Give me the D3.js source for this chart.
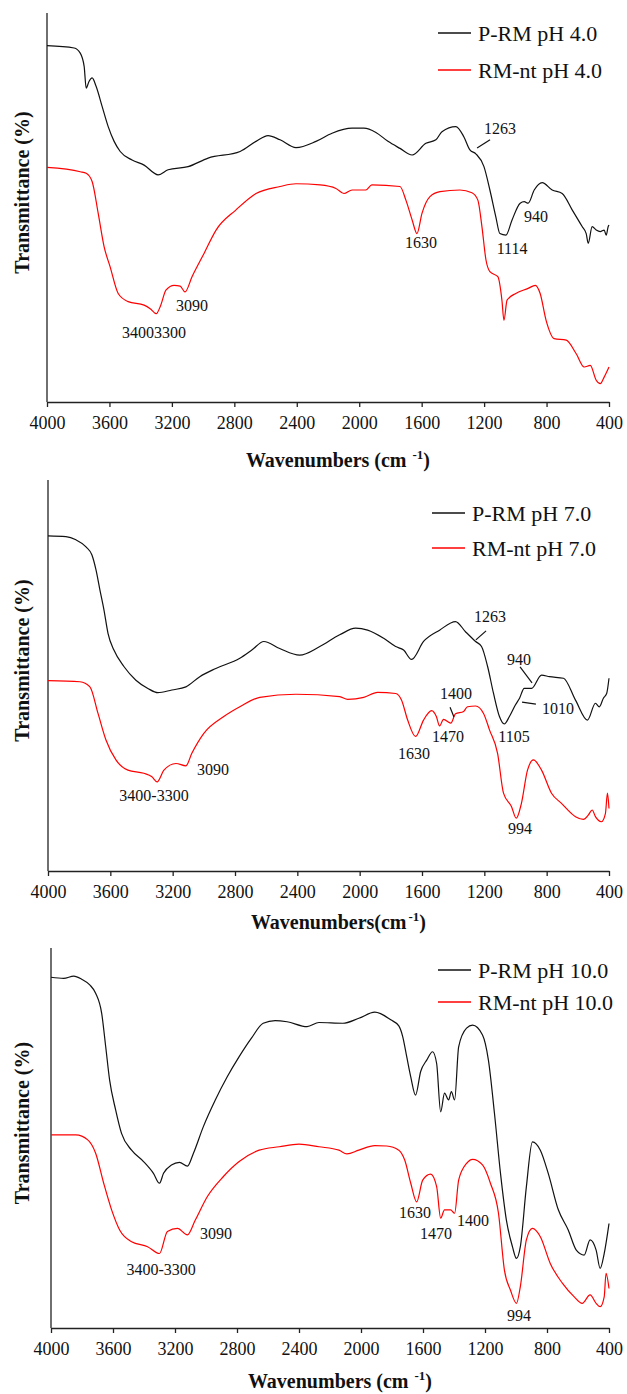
<!DOCTYPE html>
<html>
<head>
<meta charset="utf-8">
<script src="https://cdn.jsdelivr.net/npm/d3@7"></script>
<style>
  body { margin: 0; background: #fff; }
  svg { display: block; font-family: "Liberation Serif", "Times New Roman", serif; }
</style>
</head>
<body>
<svg id="chart" width="627" height="1394"></svg>
<script>
// ticks shared by the three panels
var tickValues = [4000, 3600, 3200, 2800, 2400, 2000, 1600, 1200, 800, 400];

// ---- pH 4.0 ----
var wnPRM4 = [4000,3826,3787,3762,3749,3731,3711,3685,3647,3608,3570,3531,3455,3378,3288,3224,3096,2968,2763,2661,2584,2507,2405,2277,2174,2046,1970,1893,1816,1739,1661,1573,1509,1470,1381,1330,1291,1253,1201,1163,1125,1099,1060,1021,969,943,918,879,828,764,700,636,572,546,533,508,482,456,431,418,405,400];
var tPRM4  = [91.6,91.0,89.7,86.3,80.7,82.4,83.3,81.1,76.0,70.8,67.0,64.4,62.2,60.9,58.4,59.7,60.5,62.7,64.4,67.0,68.5,67.4,65.4,67.0,69.1,70.4,70.4,69.3,67.0,65.2,63.5,66.5,67.4,69.5,70.8,68.2,64.8,63.8,60.5,54.5,47.6,43.3,42.9,46.8,51.1,51.5,51.1,54.5,56.4,54.5,53.6,49.4,45.1,43.3,40.8,45.1,44.2,43.8,44.2,42.9,45.1,45.5];
var wnRMnt4 = [4000,3787,3749,3711,3672,3634,3596,3544,3480,3378,3339,3300,3275,3237,3186,3147,3116,3071,2994,2917,2789,2661,2507,2405,2251,2149,2098,2046,1957,1919,1739,1701,1661,1630,1598,1547,1483,1355,1278,1240,1214,1188,1163,1112,1086,1073,1053,997,918,872,841,803,751,674,610,559,520,482,456,431,400];
var tRMnt4  = [60.3,59.2,58.8,56.7,48.5,39.9,34.8,27.9,25.8,24.9,24.0,22.7,24.5,28.8,30.0,29.8,28.3,32.2,38.2,44.2,49.4,53.6,55.4,56.1,55.8,54.9,53.6,54.5,54.5,55.8,55.4,51.9,46.8,43.3,48.5,52.8,54.1,54.5,53.8,51.9,45.1,36.5,33.5,32.2,26.2,21.0,26.2,27.9,29.2,30.0,27.9,21.0,16.3,15.9,12.4,9.0,9.4,5.6,4.7,6.4,9.0];
var labels4 = ["1263", "940", "1114", "1630", "3090", "34003300"];
var labelWn4 = [1098, 867, 1021, 1604, 3071, 3315];
var labelT4  = [70.4, 47.6, 39.6, 41.1, 24.9, 18.0];
var leaders4 = [[1245, 65.3, 1162, 67.4]];

// ---- pH 7.0 ----
var wnPRM7 = [4000,3885,3821,3756,3718,3692,3667,3641,3615,3577,3513,3436,3359,3295,3205,3115,3026,2923,2769,2692,2615,2513,2385,2256,2128,2026,1949,1846,1769,1718,1667,1590,1487,1385,1321,1256,1218,1179,1141,1103,1072,1039,1000,974,944,897,833,782,692,615,538,487,462,436,415,400];
var tPRM7  = [85.7,85.5,84.7,82.9,80.8,77.0,71.9,66.8,60.8,56.5,52.3,48.8,46.7,45.6,46.3,47.1,49.7,51.8,54.4,56.5,58.7,56.9,55.2,57.4,60.4,62.1,61.6,59.5,57.4,56.5,54.1,58.7,61.6,63.8,61.2,58.7,57.4,52.3,45.4,39.5,37.6,39.5,42.5,44.2,46.7,46.7,50.1,49.7,49.3,43.7,38.6,42.9,42.0,44.2,45.4,49.3];
var wnRMnt7 = [4000,3795,3731,3679,3628,3564,3487,3385,3333,3300,3256,3179,3115,3077,3000,2872,2769,2641,2410,2128,2077,1974,1885,1769,1731,1692,1641,1590,1538,1508,1487,1462,1415,1385,1333,1308,1256,1205,1167,1115,1077,1026,995,962,923,885,833,769,705,615,564,533,508,487,449,423,410,400];
var tRMnt7  = [48.7,48.4,47.1,40.3,33.5,28.4,25.8,25.0,24.1,22.8,25.8,27.5,26.9,30.1,35.2,39.5,42.0,44.4,45.2,44.6,43.9,44.4,45.7,45.4,43.7,38.6,34.4,38.6,41.0,39.5,37.1,38.8,37.8,40.2,40.8,42.0,42.2,40.3,36.1,30.1,19.9,16.5,13.5,17.3,25.8,28.4,25.8,19.9,17.3,13.9,13.2,14.3,15.6,13.9,12.6,14.7,19.9,16.0];
var labels7 = ["1263", "940", "1010", "1105", "1400", "1470", "1630", "3090", "3400-3300", "994"];
var labelWn7 = [1164, 978, 727, 1010, 1382, 1433, 1651, 2941, 3320, 971];
var labelT7  = [65.0, 54.2, 41.7, 34.3, 45.5, 34.3, 30.2, 26.1, 19.4, 11.0];
var leaders7 = [[1254, 59.1, 1189, 61.4], [971, 52.2, 894, 48.1], [958, 43.2, 869, 42.7], [1420, 41.9, 1395, 39.4]];

// ---- pH 10.0 ----
var wnPRM10 = [4000,3918,3853,3802,3750,3712,3673,3647,3622,3583,3545,3480,3403,3339,3300,3274,3223,3171,3120,3081,3017,2940,2863,2786,2708,2631,2554,2477,2348,2271,2117,2014,1911,1808,1756,1731,1705,1679,1648,1615,1576,1538,1512,1486,1461,1435,1417,1396,1370,1319,1280,1216,1178,1139,1100,1062,1023,997,972,933,894,843,792,727,663,611,560,522,483,457,431,400];
var tPRM10  = [92.3,92.0,92.6,91.8,90.3,88.1,82.8,74.0,65.3,57.4,51.2,46.8,43.8,40.7,38.1,40.7,42.9,43.6,42.6,46.0,53.0,60.0,66.1,71.4,76.2,80.2,80.9,80.6,79.3,80.4,80.2,81.5,83.1,81.1,79.5,76.7,71.4,66.1,61.3,67.5,70.5,72.7,69.6,56.9,61.8,60.0,62.2,60.0,74.0,78.9,79.7,77.1,70.5,56.5,40.7,28.4,21.4,18.3,21.4,37.2,49.0,46.8,40.7,31.1,25.8,20.5,19.2,23.2,20.5,15.7,19.6,27.5];
var wnRMnt10 = [4000,3840,3763,3712,3660,3609,3557,3480,3377,3300,3249,3184,3120,3069,2991,2889,2786,2657,2528,2400,2271,2142,2091,2014,1911,1834,1756,1718,1679,1641,1602,1551,1512,1486,1461,1422,1396,1370,1319,1280,1216,1165,1113,1075,1036,997,972,933,894,843,779,701,624,573,522,483,457,431,419,400];
var tRMnt10  = [50.8,50.8,49.5,46.0,38.1,31.1,25.8,22.7,21.4,19.6,25.4,26.2,24.5,28.4,34.6,39.8,43.8,46.8,47.7,48.4,47.7,46.8,45.8,46.8,48.0,47.9,46.8,44.2,38.1,33.2,38.9,40.5,37.2,28.9,31.1,31.1,30.2,38.9,43.3,44.4,42.9,38.1,30.2,15.3,10.0,6.5,10.9,23.2,26.2,24.0,17.0,11.8,8.2,6.5,8.7,6.5,5.6,8.2,14.4,10.4];
var labels10 = ["1630", "1470", "1400", "3090", "3400-3300", "994"];
var labelWn10 = [1651, 1516, 1277, 2935, 3290, 980];
var labelT10  = [30.3, 25.0, 28.4, 25.0, 15.5, 3.4];
var leaders10 = [];

var svg = d3.select("#chart");

function zip(wn, t) {
    return wn.map(function(w, i) { return [w, t[i]]; });
}

function drawPanel(p) {
    var x = d3.scaleLinear().domain([4000, 400]).range([p.left, p.right]);
    var y = d3.scaleLinear().domain([0, 100]).range([p.bottom, p.top]);
    var g = svg.append("g");

    // x axis
    var ax = g.append("g")
        .attr("transform", "translate(0," + p.bottom + ")")
        .call(d3.axisBottom(x).tickValues(tickValues).tickSize(5).tickSizeOuter(0).tickPadding(9).tickFormat(d3.format("d")));
    ax.select(".domain").attr("stroke", "#222").attr("stroke-width", 1.3);
    ax.selectAll(".tick line").attr("stroke", "#222").attr("stroke-width", 1.3);
    ax.selectAll(".tick text").attr("fill", "#111").style("font-size", "18px").style("font-family", "Liberation Serif");

    // y axis (bare line)
    g.append("line")
        .attr("x1", p.left).attr("x2", p.left)
        .attr("y1", p.top).attr("y2", p.bottom)
        .attr("stroke", "#222").attr("stroke-width", 1.3);

    var line = d3.line()
        .x(function(d) { return x(d[0]); })
        .y(function(d) { return y(d[1]); })
        .curve(d3.curveMonotoneX);

    g.append("path").datum(zip(p.blackWn, p.blackT))
        .attr("fill", "none").attr("stroke", "#111").attr("stroke-width", 1.2)
        .attr("d", line);
    g.append("path").datum(zip(p.redWn, p.redT))
        .attr("fill", "none").attr("stroke", "#ff0000").attr("stroke-width", 1.2)
        .attr("d", line);

    // peak labels
    g.selectAll("text.peak").data(p.labels).enter()
        .append("text").attr("class", "peak")
        .attr("x", function(d, i) { return x(p.labelWn[i]); })
        .attr("y", function(d, i) { return y(p.labelT[i]); })
        .attr("dy", "0.35em")
        .attr("text-anchor", "middle")
        .style("font-size", "16px")
        .attr("fill", "#111")
        .text(function(d) { return d; });

    g.selectAll("line.leader").data(p.leaders).enter()
        .append("line").attr("class", "leader")
        .attr("x1", function(d) { return x(d[0]); })
        .attr("y1", function(d) { return y(d[1]); })
        .attr("x2", function(d) { return x(d[2]); })
        .attr("y2", function(d) { return y(d[3]); })
        .attr("stroke", "#111").attr("stroke-width", 1.2);

    // legend
    var names = [p.blackName, p.redName];
    var cols = ["#111", "#ff0000"];
    names.forEach(function(n, i) {
        var ly = p.legendY + i * p.legendGap;
        g.append("line")
            .attr("x1", p.legendX).attr("x2", p.legendX + 33)
            .attr("y1", ly).attr("y2", ly)
            .attr("stroke", cols[i]).attr("stroke-width", 1.3);
        g.append("text")
            .attr("x", p.legendX + 40).attr("y", ly).attr("dy", "0.35em")
            .style("font-size", "22px").attr("fill", "#111")
            .text(n);
    });

    // axis titles
    var xt = g.append("text")
        .attr("x", (p.left + p.right) / 2 + 10)
        .attr("y", p.titleY)
        .attr("text-anchor", "middle")
        .style("font-size", "20px").style("font-weight", "bold").attr("fill", "#111");
    xt.append("tspan").text(p.titleText);
    xt.append("tspan").attr("dx", p.supGap).attr("dy", -8).style("font-size", "13px").text("-1");
    xt.append("tspan").attr("dy", 8).text(")");

    g.append("text")
        .attr("transform", "translate(29," + ((p.top + p.bottom) / 2 - 15) + ") rotate(-90)")
        .attr("text-anchor", "middle")
        .style("font-size", "20px").style("font-weight", "bold").attr("fill", "#111")
        .text("Transmittance (%)");
}

drawPanel({
    left: 47, right: 609, top: 13, bottom: 402, titleY: 467,
    titleText: "Wavenumbers (cm", supGap: 6,
    legendX: 438, legendY: 33, legendGap: 37,
    blackName: "P-RM pH 4.0", redName: "RM-nt pH 4.0",
    blackWn: wnPRM4, blackT: tPRM4, redWn: wnRMnt4, redT: tRMnt4,
    labels: labels4, labelWn: labelWn4, labelT: labelT4, leaders: leaders4
});
drawPanel({
    left: 48, right: 609, top: 480, bottom: 871, titleY: 929,
    titleText: "Wavenumbers(cm", supGap: 2,
    legendX: 432, legendY: 513, legendGap: 35,
    blackName: "P-RM pH 7.0", redName: "RM-nt pH 7.0",
    blackWn: wnPRM7, blackT: tPRM7, redWn: wnRMnt7, redT: tRMnt7,
    labels: labels7, labelWn: labelWn7, labelT: labelT7, leaders: leaders7
});
drawPanel({
    left: 51, right: 609, top: 948, bottom: 1328, titleY: 1388,
    titleText: "Wavenumbers (cm", supGap: 6,
    legendX: 438, legendY: 970, legendGap: 32,
    blackName: "P-RM pH 10.0", redName: "RM-nt pH 10.0",
    blackWn: wnPRM10, blackT: tPRM10, redWn: wnRMnt10, redT: tRMnt10,
    labels: labels10, labelWn: labelWn10, labelT: labelT10, leaders: leaders10
});
</script>
</body>
</html>
